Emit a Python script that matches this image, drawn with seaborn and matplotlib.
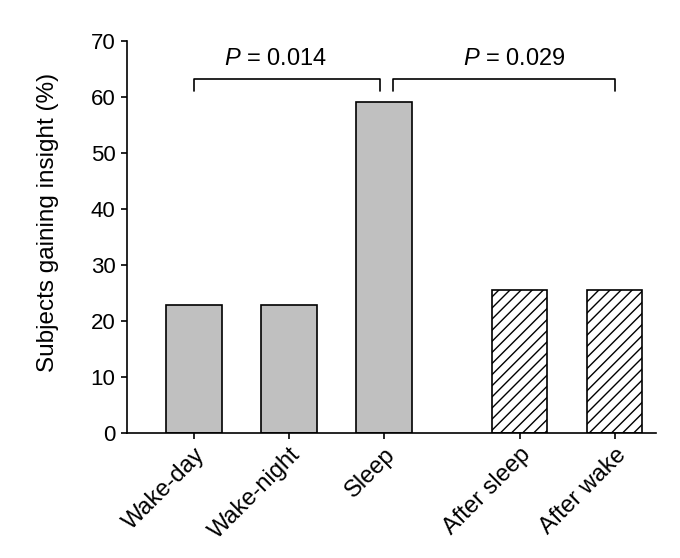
import numpy as np
import pandas as pd
import seaborn as sns
import matplotlib
matplotlib.use("Agg")
import matplotlib.pyplot as plt

# data
groups = ["Wake-day", "Wake-night", "Sleep", "After sleep", "After wake"]
pos = [0, 1, 2, 3.43, 4.43]
insight = [22.7, 22.7, 59.1, 25.5, 25.5]
hatched = [False, False, False, True, True]

p_labels = ["$P$ = 0.014", "$P$ = 0.029"]
brackets = [(0, 1.96), (2.10, 4.43)]

sns.set_style("ticks")
plt.rcParams["font.family"] = ["Liberation Sans", "DejaVu Sans"]
plt.rcParams["mathtext.fontset"] = "custom"
plt.rcParams["mathtext.it"] = "Liberation Sans:italic"
plt.rcParams["mathtext.rm"] = "Liberation Sans"
plt.rcParams["hatch.linewidth"] = 1.0
plt.rcParams["text.color"] = "black"
plt.rcParams["axes.labelcolor"] = "black"
plt.rcParams["xtick.color"] = "black"
plt.rcParams["ytick.color"] = "black"

df = pd.DataFrame({"pos": pos, "insight": insight, "group": groups})

fig = plt.figure(figsize=(6.8, 5.58), dpi=100)
ax = fig.add_axes([0.1863, 0.2249, 0.7784, 0.7021])

sns.barplot(data=df, x="pos", y="insight", native_scale=True, width=0.58,
            color="#c0c0c0", edgecolor="black", linewidth=1.2, ax=ax)

for bar, h in zip(ax.patches, hatched):
    bar.set_facecolor("#c0c0c0")
    if h:
        bar.set_facecolor("white")
        bar.set_hatch("///")

ax.set_xlim(-0.708, 4.863)
ax.set_ylim(0, 70)
ax.set_yticks(range(0, 71, 10))
ax.set_xticks(pos)
ax.set_xticklabels(groups, rotation=45, ha="right", rotation_mode="anchor",
                   fontsize=17)
ax.set_xlabel("")
ax.set_ylabel("Subjects gaining insight (%)", fontsize=17.5)
ax.yaxis.set_label_coords(-0.128, 0.537)
ax.tick_params(axis="y", labelsize=16)
ax.tick_params(axis="both", width=1.2, length=4.5, color="black",
               labelcolor="black")
for s in ["left", "bottom"]:
    ax.spines[s].set_linewidth(1.2)
    ax.spines[s].set_color("black")
sns.despine(ax=ax)

# significance brackets
text_x = [0.86, 3.37]
for (x0, x1), lab, tx in zip(brackets, p_labels, text_x):
    ax.plot([x0, x0, x1, x1], [61.1, 63.15, 63.15, 61.1], color="black",
            lw=1.2, clip_on=False)
    ax.text(tx, 65.6, lab, ha="center", va="baseline", fontsize=17)

fig.savefig("out.png", dpi=100)
